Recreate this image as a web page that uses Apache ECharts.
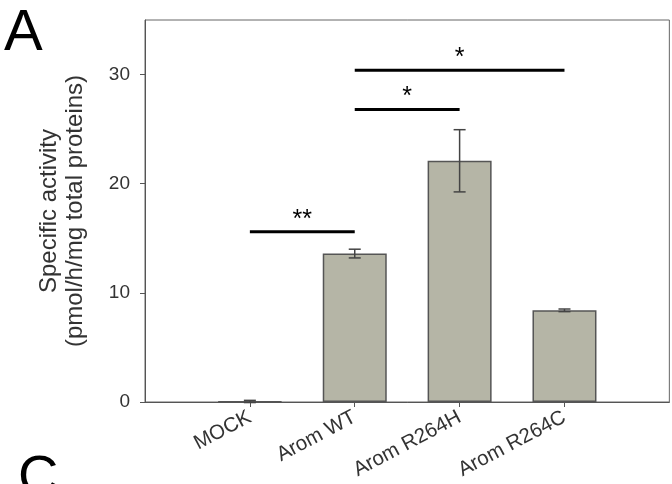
<!DOCTYPE html>
<html>
<head>
<meta charset="utf-8">
<script src="https://cdn.jsdelivr.net/npm/echarts@6/dist/echarts.min.js"></script>
<style>html,body{margin:0;padding:0;background:#fff}#c{width:672px;height:484px}</style>
</head>
<body>
<div id="c"></div>
<script>
// ---- data ----
const categories = ['MOCK', 'Arom WT', 'Arom R264H', 'Arom R264C'];
const values = [0.05, 13.6, 22.1, 8.4];
const errors = [0.1, 0.4, 2.85, 0.12];
const yTicks = [0, 10, 20, 30];
const sigPairs = [[0, 1], [1, 2], [1, 3]];
const sigHeights = [15.6, 26.8, 30.4];
const sigLabels = ['**', '*', '*'];

// axis slots: empty slot before and after the four groups
const axisCats = [''].concat(categories, ['']);
const barData = ['-'].concat(values, ['-']);
const errData = values.map((v, i) => [i + 1, v - errors[i], v + errors[i]]);
const sigData = sigPairs.map((p, i) => [p[0] + 1, p[1] + 1, sigHeights[i]]);

const FONT = '"Liberation Sans", Arial, Helvetica, sans-serif';
const chart = echarts.init(document.getElementById('c'), null, {renderer: 'canvas'});
chart.setOption({
  animation: false,
  backgroundColor: '#fff',
  grid: {left: 145, top: 20, right: -3, bottom: 82, show: true, borderColor: '#666', borderWidth: 1, backgroundColor: 'transparent'},
  xAxis: {
    type: 'category', data: axisCats, boundaryGap: false,
    axisLine: {lineStyle: {color: '#555', width: 1}},
    axisTick: {show: true, length: 5, lineStyle: {color: '#555'}, interval: (idx, v) => v !== ''},
    axisLabel: {interval: 0, rotate: 28, fontSize: 20.5, color: '#333', fontFamily: FONT, margin: 14},
    splitLine: {show: false}
  },
  yAxis: {
    type: 'value', min: 0, max: 35, interval: 10,
    axisLine: {show: true, lineStyle: {color: '#555', width: 1}},
    axisTick: {show: true, length: 5, lineStyle: {color: '#555'}, customValues: yTicks},
    axisLabel: {fontSize: 19, color: '#333', fontFamily: FONT, margin: 15, customValues: yTicks,
      formatter: v => (yTicks.indexOf(v) >= 0 ? String(v) : '')},
    splitLine: {show: false},
    name: 'Specific activity\n(pmol/h/mg total proteins)',
    nameLocation: 'middle', nameGap: 57,
    nameTextStyle: {fontSize: 24, lineHeight: 26, color: '#333', fontFamily: FONT, align: 'center'}
  },
  series: [
    {
      type: 'bar', data: barData, barWidth: 64,
      itemStyle: {color: '#b5b5a6', borderColor: '#555', borderWidth: 1.5},
      z: 2
    },
    {
      type: 'custom', data: errData, z: 3,
      renderItem: function (params, api) {
        const x = api.value(0);
        const lo = api.coord([x, api.value(1)]);
        const hi = api.coord([x, api.value(2)]);
        const hw = 6;
        const st = {stroke: '#444', lineWidth: 1.5};
        return {type: 'group', children: [
          {type: 'line', shape: {x1: lo[0], y1: lo[1], x2: hi[0], y2: hi[1]}, style: st},
          {type: 'line', shape: {x1: hi[0] - hw, y1: hi[1], x2: hi[0] + hw, y2: hi[1]}, style: st},
          {type: 'line', shape: {x1: lo[0] - hw, y1: lo[1], x2: lo[0] + hw, y2: lo[1]}, style: st}
        ]};
      }
    },
    {
      type: 'custom', data: sigData, z: 4,
      renderItem: function (params, api) {
        const a = api.coord([api.value(0), api.value(2)]);
        const b = api.coord([api.value(1), api.value(2)]);
        return {type: 'group', children: [
          {type: 'line', shape: {x1: a[0], y1: a[1], x2: b[0], y2: b[1]}, style: {stroke: '#000', lineWidth: 3}},
          {type: 'text', x: (a[0] + b[0]) / 2, y: a[1] - 12,
            style: {text: sigLabels[params.dataIndex], fontSize: 25, fontFamily: FONT, fill: '#000', align: 'center', verticalAlign: 'middle'}}
        ]};
      }
    }
  ],
  graphic: [
    {type: 'text', x: 4, y: 34, style: {text: 'A', fontSize: 58, fontFamily: FONT, fill: '#000', align: 'left', verticalAlign: 'middle'}},
    {type: 'text', x: 18, y: 479, style: {text: 'C', fontSize: 56, fontFamily: FONT, fill: '#000', align: 'left', verticalAlign: 'middle'}}
  ]
});
</script>
</body>
</html>
